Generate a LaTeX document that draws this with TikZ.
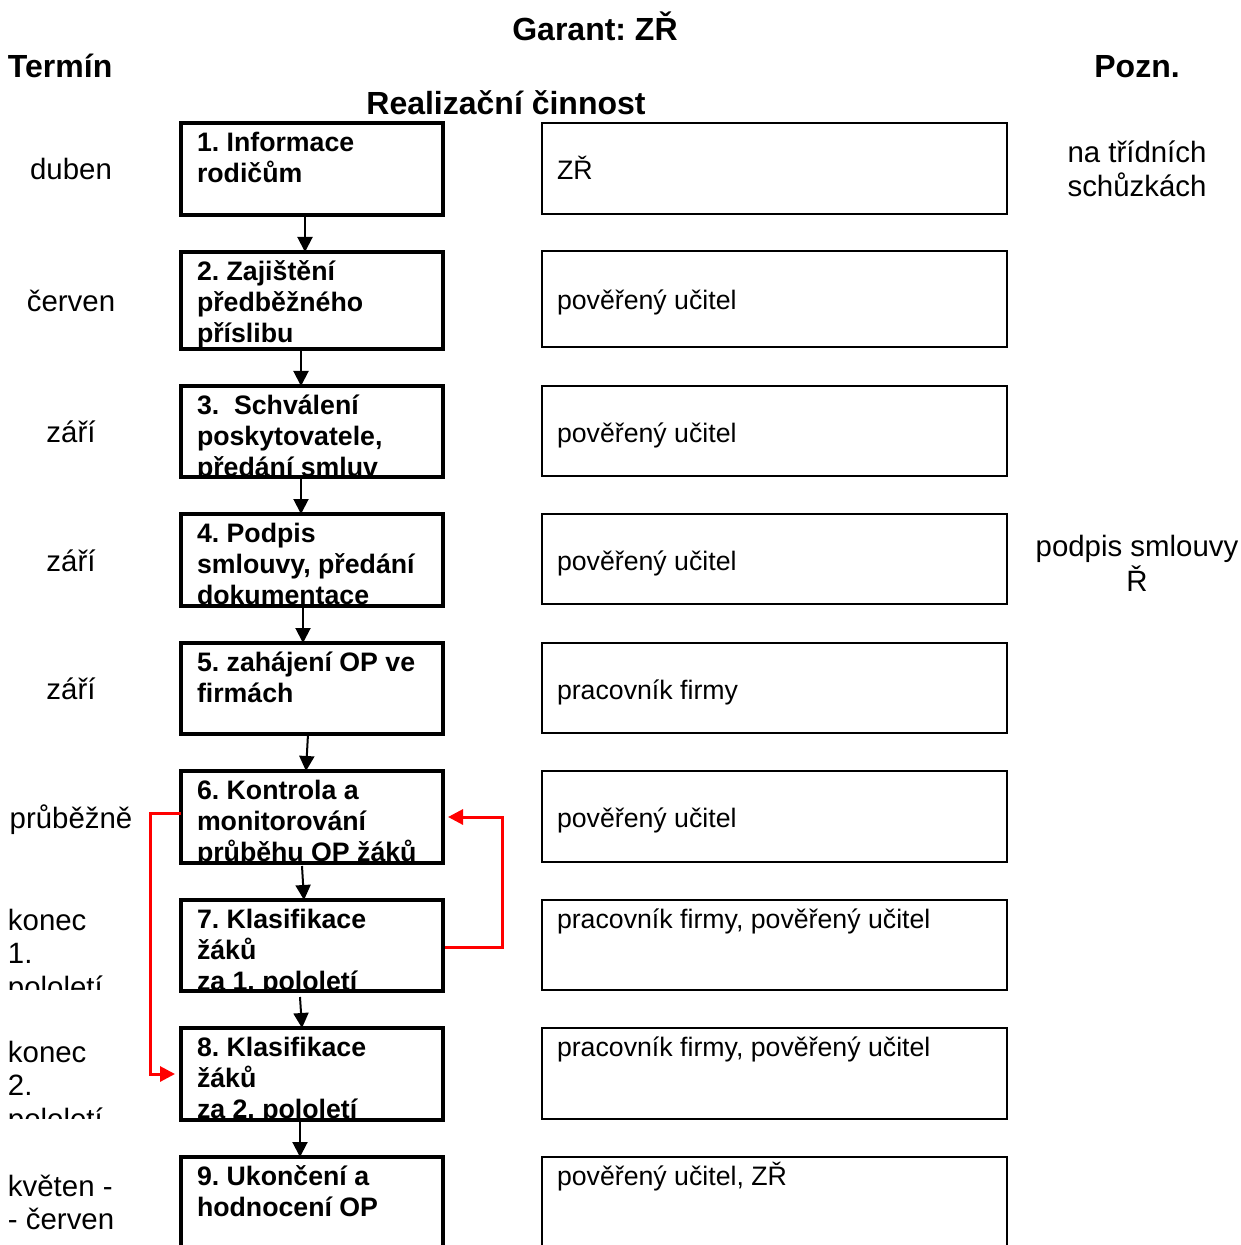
\documentclass[tikz,border=0pt]{standalone}
\usepackage{fontspec}
\setmainfont{Liberation Sans}
\usetikzlibrary{arrows.meta,calc,fit}
\frenchspacing

% lines of text whose reference point is the baseline of the first line
\newcommand\linesl[1]{\begin{tabular}[t]{@{}l@{}}#1\end{tabular}}
\newcommand\linesc[1]{\begin{tabular}[t]{@{}c@{}}#1\end{tabular}}

% one step of the procedure: a thick box whose text is cut off at the frame
\newcommand\stepnode[4]{%
  \begin{scope}
    \clip (181,#2) rectangle (443,#3);
    \node[boxtext] (#1t) at (197,#2+28.5) {\linesl{#4}};
  \end{scope}
  \node[stepbox={(181,#2)(443,#3)}] (#1) {};}
% responsible person: a thin box with its text
\newcommand\whonode[5]{%
  \node[whobox={(542,#2)(1007,#3)}] (#1) {};
  \node[whotext] (#1t) at (557,#4) {#5};}

\begin{document}
\begin{tikzpicture}[x=0.5pt,y=-0.5pt,
  every node/.style={inner sep=0pt,outer sep=0pt},
  stepbox/.style={draw=black,line width=2pt,fit={#1}},
  whobox/.style={draw=black,line width=1pt,fit={#1}},
  boxtext/.style={anchor=base west,
    font=\fontsize{13.35pt}{15.5pt}\selectfont\bfseries},
  whotext/.style={anchor=base west,font=\fontsize{13.35pt}{15.5pt}\selectfont},
  lab/.style={anchor=base,font=\fontsize{14.7pt}{16.75pt}\selectfont},
  lableft/.style={anchor=base west,font=\fontsize{14.7pt}{16.75pt}\selectfont},
  head/.style={anchor=base,font=\fontsize{16pt}{19pt}\selectfont\bfseries},
  flow/.style={draw=black,line width=1pt,-{Triangle[width=7.5pt,length=7.5pt]}},
  back/.style={draw=red,line width=1.5pt,-{Triangle[width=7.5pt,length=7.5pt]}},
]
\clip (0,0) rectangle (1240,1245);

% headings
\node[head] (garant) at (595,41) {Garant: ZŘ};
\node[head,anchor=base west] (termin) at (8,78) {Termín};
\node[head] (pozn) at (1137,78) {Pozn.};
\node[head] (real) at (506,115) {Realizační činnost};

% steps
\stepnode{b1}{123}{215}{1. Informace\\rodičům}
\stepnode{b2}{252}{349}{2. Zajištění\\předběžného\\příslibu}
\stepnode{b3}{386}{477}{3.\ \ Schválení\\poskytovatele,\\předání smluv}
\stepnode{b4}{514}{606}{4. Podpis\\smlouvy, předání\\dokumentace}
\stepnode{b5}{643}{734}{5. zahájení OP ve\\firmách}
\stepnode{b6}{771}{863}{6. Kontrola a\\monitorování\\průběhu OP žáků}
\stepnode{b7}{900}{991}{7. Klasifikace\\žáků\\za 1. pololetí}
\stepnode{b8}{1028}{1120}{8. Klasifikace\\žáků\\za 2. pololetí}
\stepnode{b9}{1157}{1265}{9. Ukončení a\\hodnocení OP}

% responsible persons
\whonode{r1}{123}{214}{179.5}{ZŘ}
\whonode{r2}{251}{347}{310}{pověřený učitel}
\whonode{r3}{386}{476}{442}{pověřený učitel}
\whonode{r4}{514}{604}{570}{pověřený učitel}
\whonode{r5}{643}{733}{699}{pracovník firmy}
\whonode{r6}{771}{862}{827.5}{pověřený učitel}
\whonode{r7}{900}{990}{928.5}{pracovník firmy, pověřený učitel}
\whonode{r8}{1028}{1119}{1056.5}{pracovník firmy, pověřený učitel}
\whonode{r9}{1157}{1265}{1185}{pověřený učitel, ZŘ}

% dates
\node[lab] (d1) at (71,180) {duben};
\node[lab] (d2) at (71,311.5) {červen};
\node[lab] (d3) at (71,442.5) {září};
\node[lab] (d4) at (71,571) {září};
\node[lab] (d5) at (71,699.5) {září};
\node[lab] (d6) at (71,828) {průběžně};
\begin{scope}
  \clip (0,895) rectangle (170,989);
  \node[lableft] (d7) at (8,930) {\linesl{konec\\1.\\pololetí}};
\end{scope}
\begin{scope}
  \clip (0,1023) rectangle (170,1118);
  \node[lableft] (d8) at (8,1062) {\linesl{konec\\2.\\pololetí}};
\end{scope}
\node[lableft] (d9) at (8,1196) {\linesl{květen -\\- červen}};

% notes
\node[lab,font=\fontsize{14.7pt}{16pt}\selectfont] (n1) at (1137,163) {\linesc{na třídních\\schůzkách}};
\node[lab,font=\fontsize{14.7pt}{16pt}\selectfont] (n4) at (1137,556) {\linesc{podpis smlouvy\\Ř}};

% sequence of steps
\draw[flow] ($(b1.south)+(-7,0)$) -- ($(b2.north)+(-7,0)$);
\draw[flow] ($(b2.south)+(-11,0)$) -- ($(b3.north)+(-11,0)$);
\draw[flow] ($(b3.south)+(-11,0)$) -- ($(b4.north)+(-11,0)$);
\draw[flow] ($(b4.south)+(-9,0)$) -- ($(b5.north)+(-9,0)$);
\draw[flow] ($(b5.south)+(-4,0)$) -- ($(b6.north)+(-6,0)$);
\draw[flow] ($(b6.south)+(-10,3)$) -- ($(b7.north)+(-8,0)$);
\draw[flow] ($(b7.south)+(-12,6)$) -- ($(b8.north)+(-10,0)$);
\draw[flow] ($(b8.south)+(-12,0)$) -- ($(b9.north)+(-12,0)$);

% feedback loops
\draw[back,shorten >=3pt] ($(b6.west)+(0,-4)$) -- ++(-31,0) |- (b8.west);
\draw[back,shorten >=2.5pt] ($(b7.east)+(2,1.5)$) -- ++(57,0) |- (b6.east);
\end{tikzpicture}
\end{document}
